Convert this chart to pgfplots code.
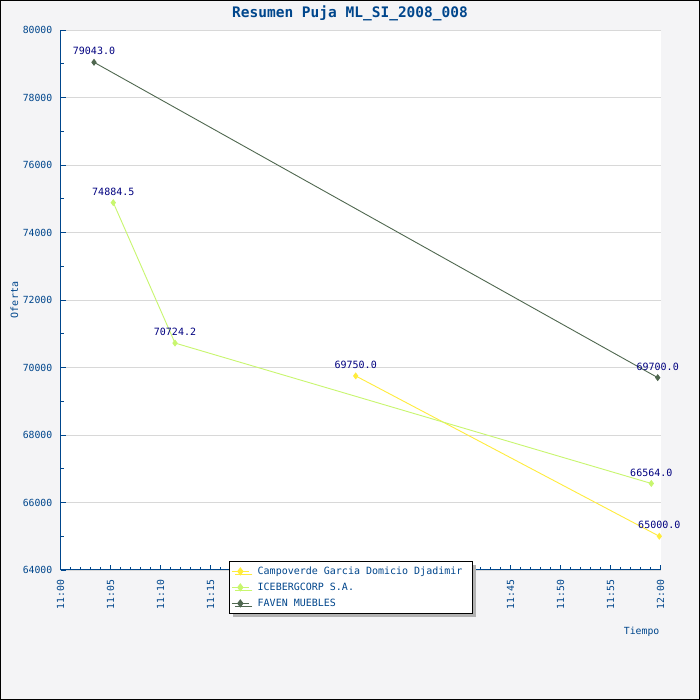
\documentclass[border=0pt]{standalone}
\usepackage{pgfplots}
\pgfplotsset{compat=1.18}
\usepackage{fontspec}
\setmainfont{DejaVu Sans Mono}
\usetikzlibrary{shadows}
\definecolor{bg}{RGB}{244,244,246}
\definecolor{axisblue}{RGB}{0,70,140}
\definecolor{navy}{RGB}{0,0,128}
\definecolor{cyel}{RGB}{255,236,60}
\definecolor{cgreen}{RGB}{200,246,110}
\definecolor{cdark}{RGB}{80,104,80}
\definecolor{gridgray}{RGB}{216,216,216}
\newcommand{\fs}[1]{\fontsize{#1}{1.2\dimexpr#1\relax}\selectfont}
\begin{document}
\begin{tikzpicture}
\fill[bg] (0,0) rectangle (700pt,700pt);
\draw[black,line width=1pt] (0.5pt,0.5pt) rectangle (699.5pt,699.5pt);
\path[use as bounding box] (0,0) rectangle (700pt,700pt);
\begin{axis}[
  at={(60.5pt,130pt)}, anchor=south west,
  scale only axis, width=600pt, height=540pt,
  xmin=0, xmax=60, ymin=64000, ymax=80000,
  enlargelimits=false, clip=false,
  scaled y ticks=false, scaled x ticks=false,
  axis lines*=left,
  axis line style={color=axisblue, line width=1pt},
  axis background/.style={fill=white},
  ymajorgrids, grid style={color=gridgray, line width=0.8pt},
  tick align=inside,
  major tick length=5pt, minor tick length=3pt,
  tick style={color=axisblue, line width=0.8pt},
  xtick={0,5,...,60},
  xticklabels={11:00,11:05,11:10,11:15,11:20,11:25,11:30,11:35,11:40,11:45,11:50,11:55,12:00},
  minor x tick num=4,
  ytick={64000,66000,...,80000},
  yticklabels={64000,66000,68000,70000,72000,74000,76000,78000,80000},
  minor y tick num=1,
  xticklabel style={rotate=90, anchor=east, inner xsep=9.5pt, inner ysep=0pt, font=\fs{9.8pt}, color=axisblue},
  yticklabel style={anchor=east, inner sep=0pt, xshift=-8pt, font=\fs{9.8pt}, color=axisblue},
  xlabel={Tiempo},
  xlabel style={at={(axis description cs:1,0)}, anchor=north east, yshift=-56.5pt, xshift=-1pt, inner sep=0pt, font=\fs{9.8pt}, color=axisblue},
  ylabel={Oferta},
  ylabel style={at={(axis description cs:-0.076667,0.5)}, anchor=center, inner sep=0pt, font=\fs{10pt}, color=axisblue},
  every axis title shift=0pt,
  title={Resumen Puja ML\_SI\_2008\_008},
  title style={at={(axis description cs:0.5,1)}, anchor=base, yshift=12.3pt, xshift=-10.5pt, inner sep=0pt, font=\bfseries\fs{14.5pt}, color=axisblue},
  point meta=explicit symbolic,
  nodes near coords={\pgfplotspointmeta},
  nodes near coords style={font=\fs{10pt}, text=navy, anchor=south, inner sep=0pt, yshift=6.8pt},
  legend cell align=left,
  legend image code/.code={\draw[mark repeat=2,mark phase=2,#1,mark size=3.5pt] plot coordinates {(0pt,0pt) (8.5pt,0pt) (17pt,0pt)};},
  legend style={
    at={(axis description cs:0.28133,0.01722)}, anchor=north west,
    draw=black, line width=0.8pt, fill=white,
    drop shadow={shadow xshift=3.5pt, shadow yshift=-3.5pt, fill=black!30, opacity=1},
    font=\fs{10pt}, text=axisblue,
    inner xsep=1.7pt, inner ysep=5.6pt,
    row sep=6.5pt,
    nodes={inner sep=0pt, text height=7.5pt, text depth=2pt},
    /tikz/every odd column/.append style={column sep=8.4pt},
  },
]
\addplot[color=cyel, line width=0.9pt, mark=diamond*, mark size=2.8pt] coordinates {(29.52,69750)[69750.0] (59.88,65000)[65000.0]};
\addlegendentry{Campoverde Garcia Domicio Djadimir\hspace*{8.7pt}\mbox{}}
\addplot[color=cgreen, line width=0.9pt, mark=diamond*, mark size=2.8pt] coordinates {(5.28,74884.5)[74884.5] (11.45,70724.2)[70724.2] (59.08,66564)[66564.0]};
\addlegendentry{ICEBERGCORP S.A.}
\addplot[color=cdark, line width=0.9pt, mark=diamond*, mark size=2.8pt] coordinates {(3.35,79043)[79043.0] (59.72,69700)[69700.0]};
\addlegendentry{FAVEN MUEBLES}
\end{axis}
\end{tikzpicture}
\end{document}
